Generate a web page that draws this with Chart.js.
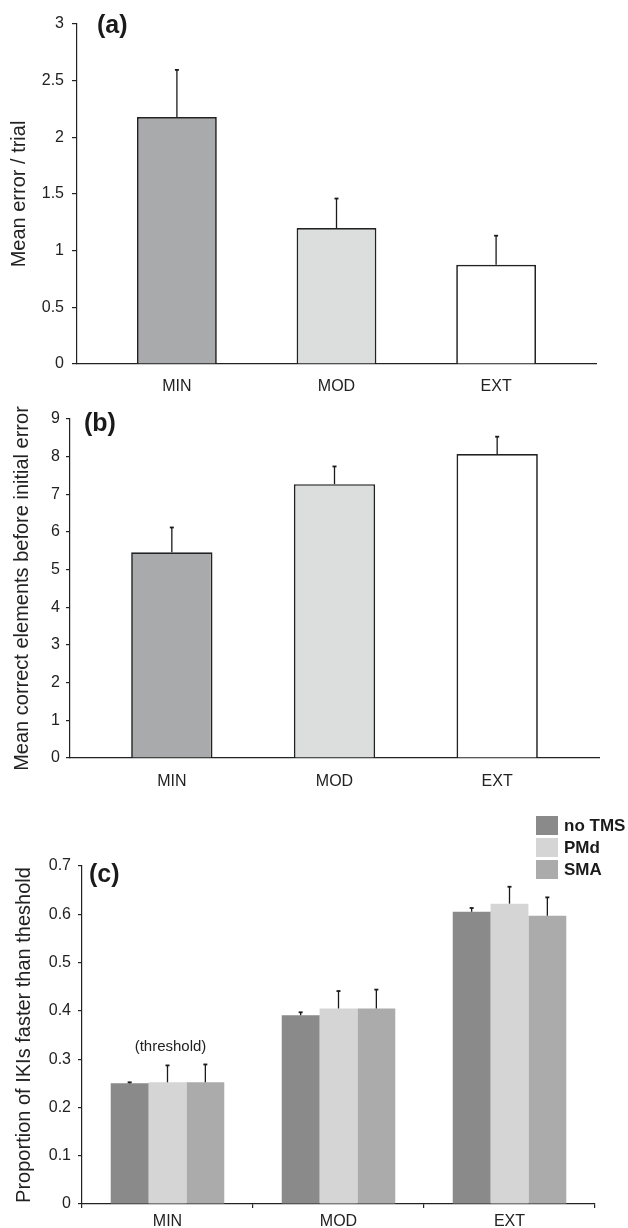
<!DOCTYPE html>
<html><head><meta charset="utf-8">
<script src="https://cdn.jsdelivr.net/npm/chart.js@4.4.1/dist/chart.umd.min.js"></script>
<style>
html,body{margin:0;padding:0;background:#fff;}
body{width:628px;height:1228px;position:relative;overflow:hidden;}
.p{position:absolute;left:0;width:628px;}
canvas{display:block;}
</style></head><body>
<div class="p" style="top:0;height:395px"><canvas id="ca" width="628" height="395"></canvas></div>
<div class="p" style="top:395px;height:395px"><canvas id="cb" width="628" height="395"></canvas></div>
<div class="p" style="top:790px;height:438px"><canvas id="cc" width="628" height="438"></canvas></div>
<script>
// ---------- data ----------
const categories = ['MIN', 'MOD', 'EXT'];

const meanErrorPerTrial = [2.18, 1.20, 0.876];
const meanErrorPerTrialSE = [0.415, 0.26, 0.256];
const yTicksA = [0, 0.5, 1, 1.5, 2, 2.5, 3];

const meanCorrectBeforeError = [5.46, 7.27, 8.07];
const meanCorrectBeforeErrorSE = [0.66, 0.47, 0.46];
const yTicksB = [0, 1, 2, 3, 4, 5, 6, 7, 8, 9];

const seriesNames = ['no TMS', 'PMd', 'SMA'];
const noTMS = [0.250, 0.391, 0.605];
const noTMS_SE = [0.002, 0.006, 0.008];
const pmd = [0.252, 0.405, 0.622];
const pmd_SE = [0.035, 0.036, 0.035];
const sma = [0.252, 0.405, 0.597];
const sma_SE = [0.037, 0.039, 0.038];
const yTicksC = [0, 0.1, 0.2, 0.3, 0.4, 0.5, 0.6, 0.7];
const thresholdNoteValue = 0.325;

// ---------- styling ----------
const FONT = "'Liberation Sans', Arial, Helvetica, sans-serif";
const INK = '#222222';
Chart.defaults.font.family = FONT;
Chart.defaults.color = INK;
Chart.defaults.animation = false;

const errorBarPlugin = {
  id: 'errorBars',
  afterDatasetsDraw(chart) {
    const ctx = chart.ctx;
    const yScale = chart.scales.y;
    chart.data.datasets.forEach((ds, di) => {
      if (!ds.errors) return;
      const meta = chart.getDatasetMeta(di);
      meta.data.forEach((bar, i) => {
        const raw = ds.data[i];
        const val = (typeof raw === 'object') ? raw.y : raw;
        const top = yScale.getPixelForValue(val + ds.errors[i]);
        ctx.save();
        ctx.strokeStyle = '#1a1a1a';
        ctx.lineWidth = 1.3;
        ctx.beginPath();
        ctx.moveTo(bar.x, bar.y);
        ctx.lineTo(bar.x, top);
        ctx.stroke();
        ctx.lineWidth = 1.8;
        ctx.beginPath();
        ctx.moveTo(bar.x - 2, top);
        ctx.lineTo(bar.x + 2, top);
        ctx.stroke();
        ctx.restore();
      });
    });
  }
};

const panelLabelPlugin = {
  id: 'panelLabel',
  afterDraw(chart, args, opts) {
    if (!opts || !opts.text) return;
    const ctx = chart.ctx;
    ctx.save();
    ctx.font = 'bold 25px ' + FONT;
    ctx.fillStyle = '#1a1a1a';
    ctx.textAlign = 'left';
    ctx.textBaseline = 'middle';
    ctx.fillText(opts.text, opts.x, opts.y);
    ctx.restore();
  }
};

const legendCPlugin = {
  id: 'legendC',
  afterDraw(chart, args, opts) {
    if (!opts || !opts.show) return;
    const ctx = chart.ctx;
    ctx.save();
    chart.data.datasets.forEach((ds, i) => {
      const y = opts.y + i * opts.step;
      ctx.fillStyle = ds.backgroundColor;
      ctx.fillRect(opts.x, y, opts.w, opts.h);
      ctx.fillStyle = '#1a1a1a';
      ctx.font = 'bold 17px ' + FONT;
      ctx.textAlign = 'left';
      ctx.textBaseline = 'middle';
      ctx.fillText(ds.label, opts.x + opts.w + 6, y + opts.h / 2 + 1);
    });
    ctx.restore();
  }
};

const notePlugin = {
  id: 'note',
  afterDraw(chart, args, opts) {
    if (!opts || !opts.text) return;
    const ctx = chart.ctx;
    const x = chart.scales.x.getPixelForValue(opts.index);
    const y = chart.scales.y.getPixelForValue(opts.value);
    ctx.save();
    ctx.font = '15px ' + FONT;
    ctx.fillStyle = INK;
    ctx.textAlign = 'center';
    ctx.textBaseline = 'middle';
    ctx.fillText(opts.text, x + 3, y);
    ctx.restore();
  }
};

function singleBarChart(id, values, errors, yTicks, yMax, yTitle, cfg) {
  return new Chart(document.getElementById(id), {
    type: 'bar',
    data: {
      datasets: [{
        data: values.map((v, i) => ({ x: i, y: v })),
        errors: errors,
        backgroundColor: ['#a9aaac', '#dcdedd', '#ffffff'],
        borderColor: '#222222',
        borderWidth: 1.7,
        borderSkipped: 'bottom',
        barPercentage: 0.5,
        categoryPercentage: 1.0
      }]
    },
    options: {
      responsive: false,
      layout: { padding: { top: cfg.padTop, right: cfg.padRight, left: 0, bottom: 0 } },
      plugins: {
        legend: { display: false },
        tooltip: { enabled: false },
        panelLabel: cfg.label
      },
      scales: {
        x: {
          type: 'linear',
          min: -0.626,
          max: 2.626,
          offset: false,
          afterBuildTicks: s => { s.ticks = categories.map((c, i) => ({ value: i })); },
          ticks: {
            callback: (v, i) => categories[i],
            autoSkip: false, maxRotation: 0,
            padding: cfg.xPad,
            font: { size: 16 }, color: INK
          },
          grid: { display: false, offset: false },
          border: { display: true, color: INK, width: 1.2 },
          afterFit: s => { s.height = cfg.xHeight; }
        },
        y: {
          min: 0, max: yMax,
          afterBuildTicks: s => { s.ticks = yTicks.map(v => ({ value: v })); },
          ticks: { callback: v => String(v), font: { size: 16 }, color: INK, padding: cfg.yTickPad },
          grid: { drawOnChartArea: false, drawTicks: true, tickLength: cfg.yTickLen, color: INK, lineWidth: 1.2 },
          border: { display: true, color: INK, width: 1.2 },
          title: { display: true, text: yTitle, font: { size: 20 }, color: INK, padding: { top: cfg.titlePad, bottom: 0 } },
          afterFit: s => { s.width = cfg.yWidth; }
        }
      }
    },
    plugins: [errorBarPlugin, panelLabelPlugin]
  });
}

singleBarChart('ca', meanErrorPerTrial, meanErrorPerTrialSE, yTicksA, 3, 'Mean error / trial', {
  padTop: 24, padRight: 32, xHeight: 31, xPad: 5, yTickPad: 8, yTickLen: 5, titlePad: 7, yWidth: 77,
  label: { text: '(a)', x: 97, y: 26 }
});

singleBarChart('cb', meanCorrectBeforeError, meanCorrectBeforeErrorSE, yTicksB, 9, 'Mean correct elements before initial error', {
  padTop: 24, padRight: 29, xHeight: 32, xPad: 6, yTickPad: 6, yTickLen: 4, titlePad: 10, yWidth: 70,
  label: { text: '(b)', x: 84, y: 29 }
});

new Chart(document.getElementById('cc'), {
  type: 'bar',
  data: {
    labels: categories,
    datasets: [
      { label: seriesNames[0], data: noTMS, errors: noTMS_SE, backgroundColor: '#8a8a8a' },
      { label: seriesNames[1], data: pmd, errors: pmd_SE, backgroundColor: '#d5d5d5' },
      { label: seriesNames[2], data: sma, errors: sma_SE, backgroundColor: '#aaabaa' }
    ]
  },
  options: {
    responsive: false,
    datasets: { bar: { categoryPercentage: 0.664, barPercentage: 1.0, borderWidth: 0 } },
    layout: { padding: { top: 76, right: 33, left: 0, bottom: 0 } },
    plugins: {
      legend: { display: false },
      tooltip: { enabled: false },
      panelLabel: { text: '(c)', x: 89, y: 85 },
      legendC: { show: true, x: 536, y: 26, w: 22, h: 19, step: 22 },
      note: { text: '(threshold)', index: 0, value: thresholdNoteValue }
    },
    scales: {
      x: {
        type: 'category',
        offset: true,
        ticks: { font: { size: 16 }, color: INK, padding: 4, autoSkip: false, maxRotation: 0 },
        grid: { offset: true, drawOnChartArea: false, drawTicks: true, tickLength: 4, color: INK, lineWidth: 1.2 },
        border: { display: true, color: INK, width: 1.2 },
        afterFit: s => { s.height = 24; }
      },
      y: {
        min: 0, max: 0.7,
        afterBuildTicks: s => { s.ticks = yTicksC.map(v => ({ value: v })); },
        ticks: { callback: v => String(v), font: { size: 16 }, color: INK, padding: 7 },
        grid: { drawOnChartArea: false, drawTicks: true, tickLength: 4, color: INK, lineWidth: 1.2 },
        border: { display: true, color: INK, width: 1.2 },
        title: { display: true, text: 'Proportion of IKIs faster than theshold', font: { size: 20 }, color: INK, padding: { top: 12, bottom: 0 } },
        afterFit: s => { s.width = 82; }
      }
    }
  },
  plugins: [errorBarPlugin, panelLabelPlugin, legendCPlugin, notePlugin]
});
</script>
</body></html>
